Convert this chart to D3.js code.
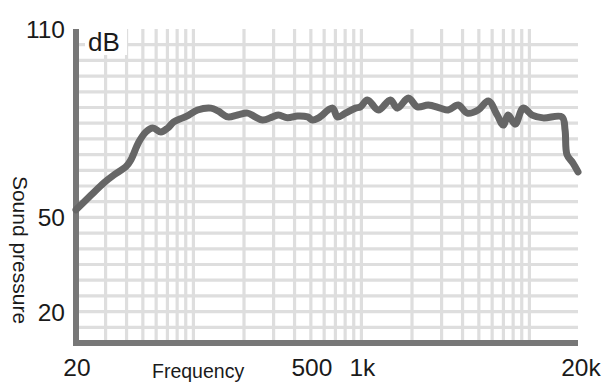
<!DOCTYPE html>
<html>
<head>
<meta charset="utf-8">
<script src="https://cdn.jsdelivr.net/npm/d3@7"></script>
<style>
  body { margin: 0; background: #fff; }
  svg { display: block; font-family: "Liberation Sans", Arial, sans-serif; }
</style>
</head>
<body>
<div id="chart"></div>
<script>
var width = 602, height = 383;

// frequency response (Hz, dB)
var freqs = [20, 24.6, 29.3, 33.6, 39.6, 42.4, 47.3, 52.1, 57.3, 64, 70.4, 76.4, 86.4, 93.8, 106,
  127, 140, 160, 183, 210, 228, 258, 296, 321, 363, 417, 478, 512, 556, 673, 720, 804, 921, 986,
  1086, 1262, 1486, 1636, 1902, 2152, 2502, 2946, 3288, 3768, 4266, 4955, 5688, 6428, 6983, 7470,
  8225, 9170, 10380, 12060, 15640, 16300, 16750, 18160, 19460];
var spl = [52.4, 57.1, 61.0, 63.5, 66.1, 68.3, 74.0, 77.2, 78.5, 77.2, 78.5, 80.4, 81.7, 82.6, 84.2,
  84.8, 83.9, 82.0, 82.6, 83.2, 82.3, 81.0, 82.0, 82.6, 81.7, 82.3, 82.0, 81.0, 81.7, 84.8, 82.0, 83.2, 84.8, 85.2,
  87.4, 84.2, 87.4, 84.8, 88.0, 85.2, 85.8, 84.8, 84.2, 85.8, 83.2, 84.2, 87.1, 82.6, 79.4, 82.6,
  79.7, 84.8, 82.6, 81.7, 82.0, 77.8, 69.9, 67.3, 64.5];

var xTicks = [20, 500, 1000, 20000];
var xTickLabels = ["20", "500", "1k", "20k"];
var yTicks = [110, 50, 20];
var xGrid = [30, 40, 50, 60, 70, 80, 90, 100, 200, 300, 400, 500, 600, 700, 800, 900,
  1000, 2000, 3000, 4000, 5000, 6000, 7000, 8000, 9000, 10000];
var yGrid = [15, 20, 25, 30, 35, 40, 45, 50, 55, 60, 65, 70, 75, 80, 85, 90, 95, 100, 105];

var x = d3.scaleLog().domain([20, 20000]).range([76, 580]);
var y = d3.scaleLinear().domain([10, 110]).range([343, 29]);

var svg = d3.select("#chart").append("svg").attr("width", width).attr("height", height);

// grid
svg.append("g").selectAll("line").data(xGrid).enter().append("line")
  .attr("x1", d => x(d)).attr("x2", d => x(d))
  .attr("y1", y(110)).attr("y2", y(10))
  .attr("stroke", "#dedede").attr("stroke-width", 3.2);
svg.append("g").selectAll("line").data(yGrid).enter().append("line")
  .attr("x1", x(20)).attr("x2", x(20000) - 2)
  .attr("y1", d => y(d)).attr("y2", d => y(d))
  .attr("stroke", "#dedede").attr("stroke-width", 3.2);

// dB label with white box over the grid
svg.append("rect").attr("x", 85).attr("y", 29).attr("width", 42).attr("height", 26).attr("fill", "#fff");
svg.append("text").attr("x", 88).attr("y", 51).attr("font-size", 26).attr("fill", "#1a1a1a").text("dB");

// axes
svg.append("line").attr("x1", x(20)).attr("x2", x(20)).attr("y1", y(110)).attr("y2", y(10) + 3)
  .attr("stroke", "#777").attr("stroke-width", 6);
svg.append("line").attr("x1", x(20) - 3).attr("x2", x(20000) - 2).attr("y1", y(10)).attr("y2", y(10))
  .attr("stroke", "#777").attr("stroke-width", 6);

// response curve
var pts = freqs.map((f, i) => [f, spl[i]]);
var line = d3.line().x(d => x(d[0])).y(d => y(d[1])).curve(d3.curveCatmullRom.alpha(0.5));
svg.append("path").datum(pts).attr("d", line)
  .attr("fill", "none").attr("stroke", "#666").attr("stroke-width", 7)
  .attr("stroke-linejoin", "round").attr("stroke-linecap", "round");

// tick labels
svg.append("g").selectAll("text").data(yTicks).enter().append("text")
  .attr("x", 65).attr("y", d => y(d) + 9)
  .attr("text-anchor", "end").attr("font-size", 24.5).attr("fill", "#1a1a1a")
  .text(d => d);
svg.append("g").selectAll("text").data(xTicks).enter().append("text")
  .attr("x", d => x(d) + 1).attr("y", 376)
  .attr("text-anchor", "middle").attr("font-size", 24.5).attr("fill", "#1a1a1a")
  .text((d, i) => xTickLabels[i]);

// axis titles
svg.append("text").attr("x", 152).attr("y", 378).attr("font-size", 19.5).attr("fill", "#1a1a1a").text("Frequency");
svg.append("text").attr("transform", "translate(13,250) rotate(90)")
  .attr("text-anchor", "middle").attr("font-size", 21).attr("fill", "#1a1a1a").text("Sound pressure");
</script>
</body>
</html>
